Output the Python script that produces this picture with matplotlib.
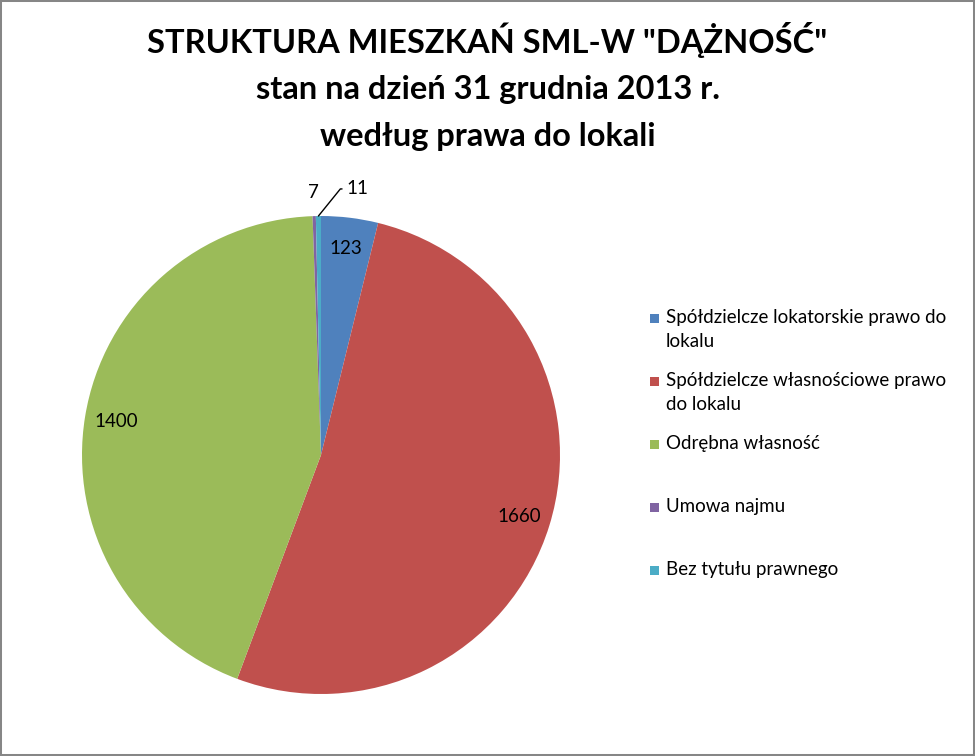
import textwrap
import numpy as np
import matplotlib.pyplot as plt
from matplotlib.patches import Rectangle

plt.rcParams['font.family'] = ['Lato', 'DejaVu Sans']

# data
categories = ['Spółdzielcze lokatorskie prawo do lokalu',
              'Spółdzielcze własnościowe prawo do lokalu',
              'Odrębna własność',
              'Umowa najmu',
              'Bez tytułu prawnego']
values = [123, 1660, 1400, 7, 11]
colors = ['#4F81BD', '#C0504D', '#9BBB59', '#8064A2', '#4BACC6']
title = 'STRUKTURA MIESZKAŃ SML-W "DĄŻNOŚĆ"\nstan na dzień 31 grudnia 2013 r.\nwedług prawa do lokali'

fig = plt.figure(figsize=(9.75, 7.56), dpi=100)

# pie area: centre ~ (321, 455) px, radius ~239 px
ax = fig.add_axes([82 / 975, 62 / 756, 478 / 975, 478 / 756])
wedges, _ = ax.pie(values, colors=colors, startangle=90, counterclock=False,
                   radius=1, wedgeprops=dict(linewidth=0))
ax.set_xlim(-1, 1)
ax.set_ylim(-1, 1)
ax.axis('off')

# data labels
for w, v in zip(wedges, values):
    ang = np.deg2rad((w.theta1 + w.theta2) / 2)
    if v > 100:
        ax.text(0.87 * np.cos(ang), 0.87 * np.sin(ang), str(v),
                ha='center', va='center', fontsize=13.5, color='black')
    elif v < 10:
        ax.text(1.1 * np.cos(ang), 1.1 * np.sin(ang), str(v),
                ha='center', va='center', fontsize=13.5, color='black', clip_on=False)
    else:
        ax.annotate(str(v), xy=(np.cos(ang), np.sin(ang)), xytext=(20, 19.5),
                    textcoords='offset points', ha='left', va='center', fontsize=13.5,
                    annotation_clip=False,
                    arrowprops=dict(arrowstyle='-', color='black', lw=1,
                                    shrinkA=1, shrinkB=0,
                                    connectionstyle='angle,angleA=0,angleB=51,rad=0'))

# legend, drawn by hand
for i, (cat, c) in enumerate(zip(categories, colors)):
    y = 1 - (318 + 63 * i) / 756
    fig.patches.append(Rectangle((650 / 975, y - 5 / 756), 9 / 975, 9 / 756,
                                 transform=fig.transFigure, facecolor=c, edgecolor='none'))
    fig.text(666 / 975, y + 9 / 756, textwrap.fill(cat, 33), ha='left', va='top',
             fontsize=13.5, linespacing=1.52)

fig.text(0.5, 1 - 22 / 756, title, ha='center', va='top', fontsize=23.5,
         fontweight='bold', linespacing=1.72)

# chart border
fig.patches.append(Rectangle((0, 0), 1, 1, transform=fig.transFigure,
                             fill=False, edgecolor='#868686', linewidth=2.9))

fig.savefig('out.png', dpi=100)
